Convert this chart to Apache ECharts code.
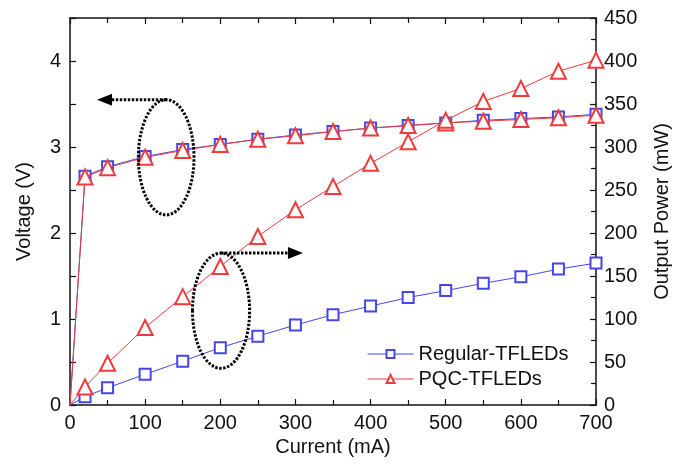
<!DOCTYPE html>
<html>
<head>
<meta charset="utf-8">
<script src="https://cdn.jsdelivr.net/npm/echarts@6/dist/echarts.min.js"></script>
<style>
  html, body { margin: 0; padding: 0; background: #fff; }
  #chart { width: 685px; height: 467px; }
</style>
</head>
<body>
<div id="chart"></div>
<script>
// Drive current (mA)
const current = [0, 20, 50, 100, 150, 200, 250, 300, 350, 400, 450, 500, 550, 600, 650, 700];

// Forward voltage (V)
const regularVoltage = [0, 2.66, 2.77, 2.89, 2.97, 3.03, 3.09, 3.14, 3.18, 3.22, 3.25, 3.28, 3.31, 3.33, 3.35, 3.38];
const pqcVoltage     = [0, 2.65, 2.76, 2.88, 2.96, 3.03, 3.09, 3.13, 3.18, 3.22, 3.25, 3.28, 3.30, 3.32, 3.34, 3.37];

// Light output power (mW)
const regularPower = [0, 9.7, 20, 35.7, 51, 66.7, 80, 93, 105, 115, 125, 133, 141.5, 149, 158, 165];
const pqcPower     = [0, 21, 48.5, 90, 126, 161, 196, 227, 254, 281, 306, 331, 353, 368, 388, 401];

// Tick labels
const currentTicks = [0, 100, 200, 300, 400, 500, 600, 700];
const voltageTicks = [0, 1, 2, 3, 4];
const powerTicks = [0, 50, 100, 150, 200, 250, 300, 350, 400, 450];

const seriesNames = ['Regular-TFLEDs', 'PQC-TFLEDs'];

const BLUE = '#4646e8';
const RED = '#ee3b3b';
const FONT = '"Liberation Sans", Arial, Helvetica, sans-serif';
const FS = 20;

// The origin point is plotted as line only, without a marker.
const pairs = (xs, ys) => xs.map((x, i) =>
  x === 0 ? { value: [x, ys[i]], symbol: 'none' } : [x, ys[i]]);

const chart = echarts.init(document.getElementById('chart'), null, { renderer: 'canvas' });

const axisLineStyle = { color: '#111', width: 1.5 };
const tickStyle = { color: '#111', width: 1.2 };

function lineSeries(name, color, symbol, size, yIndex, data, z) {
  return {
    name: name,
    type: 'line',
    xAxisIndex: 0,
    yAxisIndex: yIndex,
    data: data,
    symbol: symbol,
    symbolSize: size,
    showAllSymbol: true,
    clip: true,
    z: z,
    lineStyle: { color: color, width: 1 },
    itemStyle: { color: color, borderColor: color, borderWidth: 1.3 },
    emphasis: { disabled: true },
    animation: false
  };
}

chart.setOption({
  animation: false,
  textStyle: { fontFamily: FONT },
  grid: { left: 70, right: 89, top: 18, bottom: 62 },
  legend: {
    orient: 'vertical',
    left: 367,
    top: 344,
    padding: 0,
    itemWidth: 46,
    itemHeight: 10,
    itemGap: 5,
    itemStyle: { borderWidth: 1 },
    lineStyle: { width: 1 },
    data: seriesNames,
    textStyle: { fontFamily: FONT, fontSize: FS, color: '#111' }
  },
  xAxis: [
    {
      type: 'value',
      position: 'bottom',
      min: 0, max: 700, interval: 100,
      name: 'Current (mA)',
      nameLocation: 'middle',
      nameGap: 30,
      nameTextStyle: { fontFamily: FONT, fontSize: FS, color: '#111' },
      axisLine: { show: true, onZero: false, lineStyle: axisLineStyle },
      axisTick: { show: true, inside: true, length: 6, lineStyle: tickStyle },
      minorTick: { show: true, splitNumber: 2, length: 5, lineStyle: tickStyle },
      axisLabel: {
        margin: 8, fontSize: FS, color: '#111', fontFamily: FONT,
        formatter: v => (currentTicks.includes(v) ? String(v) : '')
      },
      splitLine: { show: false }
    },
    {
      type: 'value',
      position: 'top',
      min: 0, max: 700, interval: 100,
      axisLine: { show: true, onZero: false, lineStyle: axisLineStyle },
      axisTick: { show: true, inside: true, length: 6, lineStyle: tickStyle },
      minorTick: { show: true, splitNumber: 2, length: 5, lineStyle: tickStyle },
      axisLabel: { show: false },
      splitLine: { show: false }
    }
  ],
  yAxis: [
    {
      type: 'value',
      position: 'left',
      min: 0, max: 4.5, interval: 0.5,
      name: 'Voltage (V)',
      nameLocation: 'middle',
      nameRotate: 90,
      nameGap: 36,
      nameTextStyle: { fontFamily: FONT, fontSize: FS, color: '#111' },
      axisLine: { show: true, onZero: false, lineStyle: axisLineStyle },
      axisTick: { show: true, inside: true, length: 6, lineStyle: tickStyle },
      axisLabel: {
        margin: 9, fontSize: FS, color: '#111', fontFamily: FONT,
        formatter: v => (voltageTicks.includes(v) ? String(v) : '')
      },
      splitLine: { show: false }
    },
    {
      type: 'value',
      position: 'right',
      min: 0, max: 450, interval: 50,
      name: 'Output Power (mW)',
      nameLocation: 'middle',
      nameRotate: 90,
      nameGap: 56,
      nameTextStyle: { fontFamily: FONT, fontSize: FS, color: '#111' },
      axisLine: { show: true, onZero: false, lineStyle: axisLineStyle },
      axisTick: { show: true, inside: true, length: 6, lineStyle: tickStyle },
      minorTick: { show: true, splitNumber: 2, length: 5, lineStyle: tickStyle },
      axisLabel: {
        margin: 8, fontSize: FS, color: '#111', fontFamily: FONT,
        formatter: v => (powerTicks.includes(v) ? String(v) : '')
      },
      splitLine: { show: false }
    }
  ],
  series: [
    lineSeries(seriesNames[0], BLUE, 'emptyRect', 11, 0, pairs(current, regularVoltage), 2),
    lineSeries(seriesNames[1], RED, 'emptyTriangle', 15, 0, pairs(current, pqcVoltage), 3),
    lineSeries(seriesNames[0], BLUE, 'emptyRect', 11, 1, pairs(current, regularPower), 2),
    lineSeries(seriesNames[1], RED, 'emptyTriangle', 15, 1, pairs(current, pqcPower), 3)
  ]
});

// Dotted loops with arrows telling which axis each group of curves belongs to.
// Coordinates are in (current mA, voltage V) space; dir is the arrow heading.
const axisNotes = [
  { cx: 128, cy: 2.88, rx: 37, ry: 0.67, tip: 36, dir: -1 },
  { cx: 201, cy: 1.096, rx: 38, ry: 0.67, tip: 310, dir: 1 }
];

const toPx = p => chart.convertToPixel({ xAxisIndex: 0, yAxisIndex: 0 }, p);
const dotted = { stroke: '#000', fill: null, lineWidth: 3, lineDash: [2.4, 1.6] };

const graphics = [];
axisNotes.forEach(n => {
  const c = toPx([n.cx, n.cy]);
  const edge = toPx([n.cx + n.rx, n.cy + n.ry]);
  const rx = Math.abs(edge[0] - c[0]);
  const ry = Math.abs(c[1] - edge[1]);
  const topY = c[1] - ry;
  const tipX = toPx([n.tip, n.cy])[0];
  const headLen = 15;
  const headHalf = 6;
  const baseX = tipX - n.dir * headLen;
  graphics.push({
    type: 'ellipse',
    shape: { cx: c[0], cy: c[1], rx: rx, ry: ry },
    style: Object.assign({}, dotted),
    z: 10
  });
  graphics.push({
    type: 'line',
    shape: { x1: c[0], y1: topY, x2: baseX, y2: topY },
    style: Object.assign({}, dotted),
    z: 10
  });
  graphics.push({
    type: 'polygon',
    shape: { points: [[tipX, topY], [baseX, topY - headHalf], [baseX, topY + headHalf]] },
    style: { fill: '#000', stroke: null },
    z: 10
  });
});

chart.setOption({ graphic: graphics });
</script>
</body>
</html>
